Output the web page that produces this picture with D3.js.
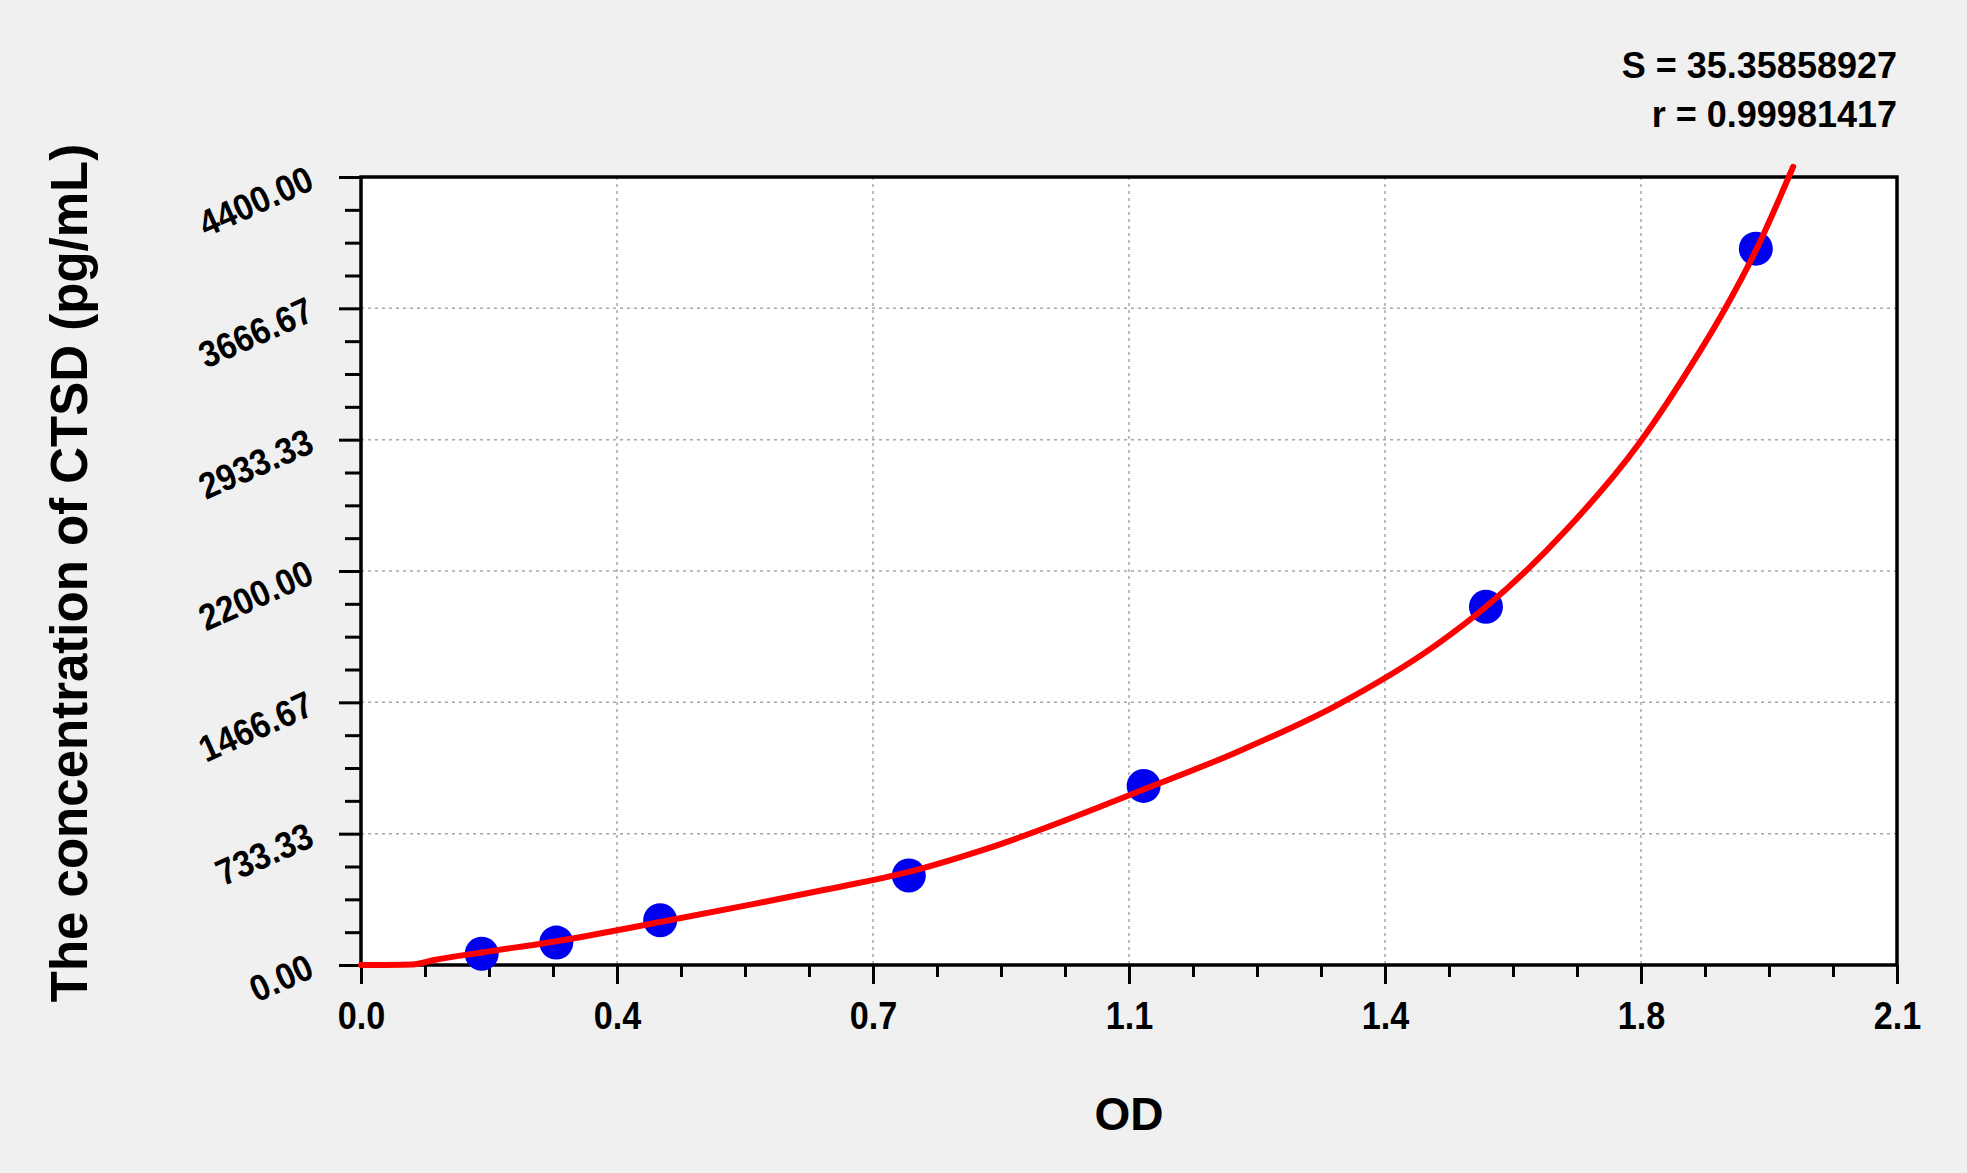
<!DOCTYPE html>
<html>
<head>
<meta charset="utf-8">
<script src="https://cdn.jsdelivr.net/npm/d3@7"></script>
<style>
  body { margin: 0; background: #f0f0f0; }
  text { font-family: Arial, "Liberation Sans", sans-serif; font-weight: bold; fill: #000; }
</style>
</head>
<body>
<svg id="std_curve_svg" width="1967" height="1173"></svg>
<script>
// standard points (OD vs concentration)
var std_od   = [0.165, 0.267, 0.409, 0.749, 1.070, 1.538, 1.907]
var std_conc = [62.5, 125, 250, 500, 1000, 2000, 4000]

// fitted curve
var curve_od   = [0.000, 0.070, 0.100, 0.165, 0.267, 0.409, 0.536, 0.634, 0.749, 0.856, 1.070, 1.198, 1.334, 1.471, 1.538, 1.648, 1.746, 1.808, 1.863, 1.907, 1.958]
var curve_conc = [0, 3, 28, 70, 133, 240, 340, 420, 520, 650, 980, 1190, 1450, 1790, 2000, 2430, 2905, 3280, 3650, 3990, 4457]

// axes
var x_ticks = [0, 0.35, 0.7, 1.05, 1.4, 1.75, 2.1]
var x_tick_labels = ["0.0", "0.4", "0.7", "1.1", "1.4", "1.8", "2.1"]
var y_ticks = [0, 733.33, 1466.67, 2200, 2933.33, 3666.67, 4400]
var y_tick_labels = ["0.00", "733.33", "1466.67", "2200.00", "2933.33", "3666.67", "4400.00"]

var fit_stats = ["S = 35.35858927", "r = 0.99981417"]
var x_title = "OD"
var y_title = "The concentration of CTSD (pg/mL)"

var svg = d3.select("#std_curve_svg")
var width = 1967, height = 1173
var margin = {left: 361, right: 70, top: 177, bottom: 208}
var plot_w = width - margin.left - margin.right,
    plot_h = height - margin.top - margin.bottom

var x_scale = d3.scaleLinear().domain([0, 2.1]).range([margin.left, margin.left + plot_w]),
    y_scale = d3.scaleLinear().domain([0, 4400]).range([margin.top + plot_h, margin.top])

svg.append("rect")
  .attr("width", width)
  .attr("height", height)
  .style("fill", "#f0f0f0")

svg.append("rect")
  .attr("x", margin.left)
  .attr("y", margin.top)
  .attr("width", plot_w)
  .attr("height", plot_h)
  .style("fill", "#fff")

// minor ticks: 4 intervals between majors
function minor_of(ticks) {
	var out = []
	for (var i = 0; i < ticks.length - 1; i++) {
		var step = (ticks[i+1] - ticks[i]) / 4
		for (var k = 1; k < 4; k++) out.push(ticks[i] + k * step)
	}
	return out
}

// grid
svg.append("g")
  .selectAll(".grid_x")
  .data(x_ticks.slice(1, -1))
  .enter()
  .append("line")
  .attr("class", "grid_x")
  .attr("x1", d=>x_scale(d)).attr("x2", d=>x_scale(d))
  .attr("y1", margin.top).attr("y2", margin.top + plot_h)
  .style("stroke", "#a8a8a8")
  .style("stroke-width", 1.5)
  .style("stroke-dasharray", "3,4")

svg.append("g")
  .selectAll(".grid_y")
  .data(y_ticks.slice(1, -1))
  .enter()
  .append("line")
  .attr("class", "grid_y")
  .attr("y1", d=>y_scale(d)).attr("y2", d=>y_scale(d))
  .attr("x1", margin.left).attr("x2", margin.left + plot_w)
  .style("stroke", "#a8a8a8")
  .style("stroke-width", 1.5)
  .style("stroke-dasharray", "3,4")

// x axis
var x_axis_g = svg.append("g")
  .attr("transform", "translate(0," + (margin.top + plot_h) + ")")
x_axis_g.append("g")
  .call(d3.axisBottom(x_scale).tickValues(minor_of(x_ticks)).tickSize(12).tickFormat(""))
x_axis_g.append("g")
  .call(d3.axisBottom(x_scale).tickValues(x_ticks).tickSize(19).tickSizeOuter(0)
        .tickFormat((d,i)=>x_tick_labels[i]))
x_axis_g.selectAll(".domain").remove()
x_axis_g.selectAll("line").style("stroke", "#000").style("stroke-width", 3)
x_axis_g.selectAll("text")
  .attr("y", 64).attr("dy", null)
  .attr("transform", "scale(0.9,1)")
  .style("font-size", "38px")

// y axis
var y_axis_g = svg.append("g")
  .attr("transform", "translate(" + margin.left + ",0)")
y_axis_g.append("g")
  .call(d3.axisLeft(y_scale).tickValues(minor_of(y_ticks)).tickSize(16).tickFormat(""))
y_axis_g.append("g")
  .call(d3.axisLeft(y_scale).tickValues(y_ticks).tickSize(22).tickSizeOuter(0)
        .tickFormat((d,i)=>y_tick_labels[i]))
y_axis_g.selectAll(".domain").remove()
y_axis_g.selectAll("line").style("stroke", "#000").style("stroke-width", 3)
y_axis_g.selectAll("text")
  .attr("x", null).attr("dy", null)
  .attr("text-anchor", "end")
  .attr("transform", "translate(-45,11) rotate(-24) scale(0.9,1)")
  .style("font-size", "37px")

// frame
svg.append("rect")
  .attr("x", margin.left)
  .attr("y", margin.top)
  .attr("width", plot_w)
  .attr("height", plot_h)
  .style("fill", "none")
  .style("stroke", "#000")
  .style("stroke-width", 3.5)

// standard points
svg.append("g")
  .selectAll(".std_point")
  .data(std_od)
  .enter()
  .append("circle")
  .attr("class", "std_point")
  .attr("cx", d=>x_scale(d))
  .attr("cy", (d,i)=>y_scale(std_conc[i]))
  .attr("r", 17)
  .style("fill", "#0000f0")

// fitted curve on top, not clipped
var line = d3.line()
  .x(d=>x_scale(d[0]))
  .y(d=>y_scale(d[1]))
  .curve(d3.curveMonotoneX)

svg.append("path")
  .datum(curve_od.map((d,i)=>[d, curve_conc[i]]))
  .attr("d", line)
  .style("fill", "none")
  .style("stroke", "#ff0000")
  .style("stroke-width", 6)
  .style("stroke-linecap", "round")

// titles
svg.append("text")
  .attr("x", 1129)
  .attr("y", 1130)
  .attr("text-anchor", "middle")
  .style("font-size", "46px")
  .text(x_title)

svg.append("text")
  .attr("transform", "translate(87,573) rotate(-90)")
  .attr("text-anchor", "middle")
  .style("font-size", "51px")
  .text(y_title)

svg.selectAll(".fit_stat")
  .data(fit_stats)
  .enter()
  .append("text")
  .attr("class", "fit_stat")
  .attr("x", 1897)
  .attr("y", (d,i)=>78 + i * 49)
  .attr("text-anchor", "end")
  .style("font-size", "36px")
  .text(d=>d)
</script>
</body>
</html>
